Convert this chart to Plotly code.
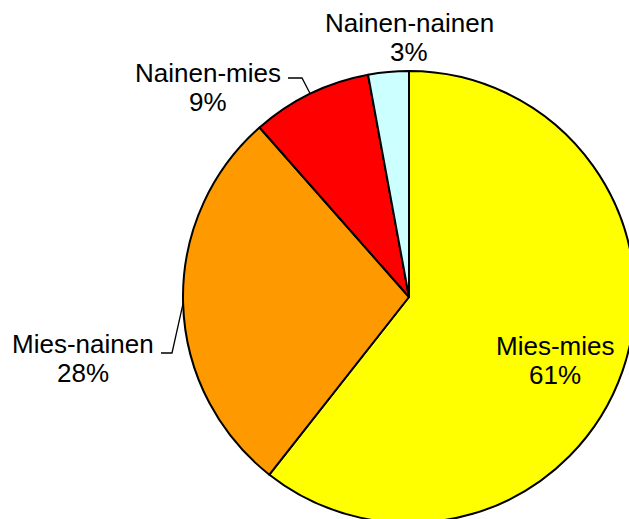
import math
import plotly.graph_objects as go

# ---- data ----
categories = ["Mies-mies", "Mies-nainen", "Nainen-mies", "Nainen-nainen"]
values = [60.6, 27.9, 8.6, 2.9]
colors = ["#FFFF00", "#FF9900", "#FF0000", "#CCFFFF"]

# ---- layout constants (pixels) ----
W, H = 700, 560
CX, CY, R = 409, 297, 226
FONT = dict(family="Liberation Sans, Arial, sans-serif", size=26, color="#000000")

def px(x):
    return x / W

def py(y):
    return 1 - y / H

fig = go.Figure(go.Pie(
    labels=categories,
    values=values,
    sort=False,
    direction="clockwise",
    rotation=0,
    marker=dict(colors=colors, line=dict(color="#000000", width=2)),
    textinfo="none",
    hoverinfo="label+percent",
    showlegend=False,
    domain=dict(x=[px(CX - R), px(CX + R)], y=[py(CY + R), py(CY - R)]),
))

total = sum(values)
pcts = [round(v / total * 100) for v in values]
cum = 0
mids = []
for v in values:
    mids.append((cum + v / 2) / total * 360)
    cum += v

# label placement (center x, baseline of first line) in pixels
label_pos = {
    "Mies-mies": (555, 355),
    "Mies-nainen": (83, 353),
    "Nainen-mies": (208, 82),
    "Nainen-nainen": (409, 32),
}
annotations = []
for name, p in zip(categories, pcts):
    x, yb = label_pos[name]
    for i, t in enumerate([name, f"{p}%"]):
        annotations.append(dict(
            x=px(x), y=py(yb + i * 29 - 9), xref="paper", yref="paper",
            text=t, showarrow=False, xanchor="center", yanchor="middle",
            font=FONT,
        ))

# leader lines: label end -> short horizontal -> slice mid-edge
leaders = {
    "Nainen-mies": (288, 78, 302),
    "Mies-nainen": (161, 353, 172),
}
shapes = []
for name, (x0, y0, x1) in leaders.items():
    k = categories.index(name)
    a = math.radians(mids[k])
    ex = CX + R * math.sin(a)
    ey = CY - R * math.cos(a)
    path = f"M {px(x0)} {py(y0)} L {px(x1)} {py(y0)} L {px(ex)} {py(ey)}"
    shapes.append(dict(type="path", path=path, xref="paper", yref="paper",
                       line=dict(color="#000000", width=1.3)))

fig.update_layout(
    width=W, height=H,
    margin=dict(l=0, r=0, t=0, b=0),
    paper_bgcolor="#FFFFFF", plot_bgcolor="#FFFFFF",
    annotations=annotations, shapes=shapes,
)
fig.write_html(
    "out.html",
    post_script="document.body.style.margin='0';document.body.style.overflow='hidden';",
)
